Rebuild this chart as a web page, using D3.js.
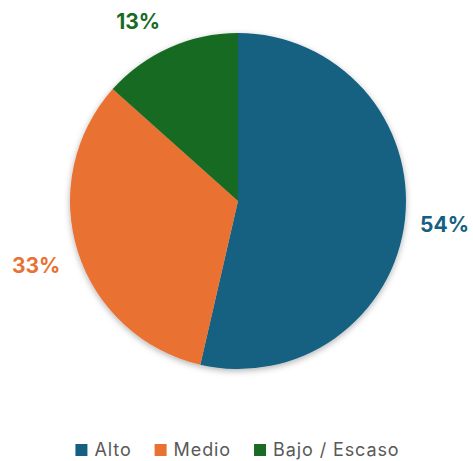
<!DOCTYPE html>
<html>
<head>
<meta charset="utf-8">
<script src="https://cdn.jsdelivr.net/npm/d3@7"></script>
<style>
  body { margin: 0; background: #fff; }
  svg { display: block; font-family: Inter, "Open Sans", sans-serif; }
</style>
</head>
<body>
<div id="chart"></div>
<script>
const categories = ["Alto", "Medio", "Bajo / Escaso"];
const values = [53.6, 33.0, 13.4];
const colors = ["#156082", "#E97132", "#196B24"];

const width = 473, height = 461;
const cx = 238, cy = 201, radius = 168;

const svg = d3.select("#chart").append("svg")
  .attr("width", width)
  .attr("height", height);

// soft shadow around the pie
const defs = svg.append("defs");
defs.append("filter")
  .attr("id", "shadow")
  .attr("x", "-20%").attr("y", "-20%")
  .attr("width", "140%").attr("height", "140%")
  .append("feDropShadow")
  .attr("dx", 0).attr("dy", 2)
  .attr("stdDeviation", 3)
  .attr("flood-color", "#000")
  .attr("flood-opacity", 0.3);

const data = categories.map((c, i) => ({ name: c, value: values[i], color: colors[i] }));
const total = d3.sum(values);

const pie = d3.pie().sort(null).value(d => d.value);
const arcs = pie(data);
const arc = d3.arc().innerRadius(0).outerRadius(radius);

const g = svg.append("g").attr("transform", `translate(${cx},${cy})`);

g.append("g")
  .attr("filter", "url(#shadow)")
  .selectAll("path")
  .data(arcs)
  .enter()
  .append("path")
  .attr("d", arc)
  .attr("fill", d => d.data.color);

// outside-end labels, clamped into the chart area like Excel does
const labelR = 185;
const topLimit = 9;
const rightLimit = width - 4;
arcs.forEach(a => {
  const t = g.append("text")
    .attr("font-size", 21)
    .attr("font-weight", "bold")
    .attr("fill", a.data.color)
    .text(Math.round(a.data.value / total * 100) + "%");
  const bb = t.node().getBBox();
  const w = bb.width / 2, h = bb.height / 2;
  const mid = (a.startAngle + a.endAngle) / 2;
  const sx = Math.sin(mid), sy = -Math.cos(mid);
  const dist = labelR + Math.abs(sx) * w + Math.abs(sy) * h;
  let x = sx * dist, y = sy * dist;
  if (cy + y - h < topLimit) {
    y = topLimit + h - cy;
    x = Math.sign(sx) * Math.sqrt(Math.max(0, dist * dist - y * y));
  }
  if (cx + x + w > rightLimit) x = rightLimit - w - cx;
  // center the text box on (x, y)
  t.attr("x", x - bb.x - w).attr("y", y - bb.y - h);
});

// legend
const legend = svg.append("g");
let lx = 0;
data.forEach(d => {
  const item = legend.append("g").attr("transform", `translate(${lx},0)`);
  item.append("rect")
    .attr("x", 0).attr("y", -12)
    .attr("width", 12).attr("height", 12)
    .attr("fill", d.color);
  const t = item.append("text")
    .attr("x", 19).attr("y", 0)
    .attr("font-size", 18)
    .attr("letter-spacing", 0.9)
    .attr("fill", "#595959")
    .text(d.name);
  lx += 19 + t.node().getComputedTextLength() + 23;
});
const legendW = lx - 23;
legend.attr("transform", `translate(${(width - legendW) / 2 + 1},456)`);
</script>
</body>
</html>
